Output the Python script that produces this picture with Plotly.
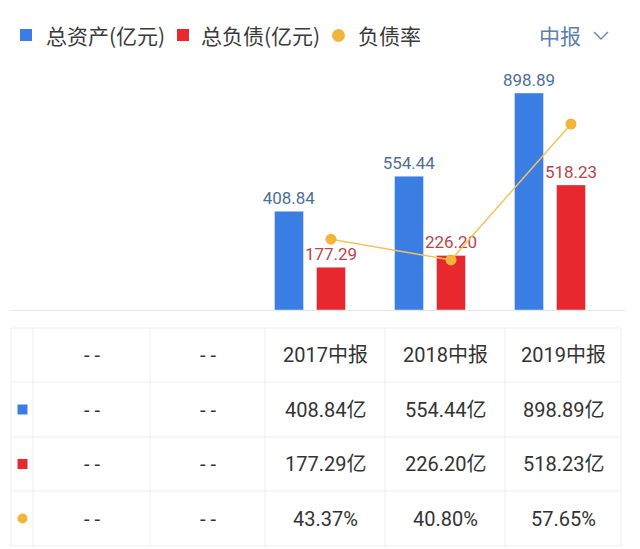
import plotly.graph_objects as go

categories = ["- -", "- -", "2017中报", "2018中报", "2019中报"]
total_assets = [None, None, 408.84, 554.44, 898.89]
total_liab = [None, None, 177.29, 226.20, 518.23]
debt_ratio = [None, None, 43.37, 40.80, 57.65]

asset_labels = ["- -", "- -", "408.84亿", "554.44亿", "898.89亿"]
liab_labels = ["- -", "- -", "177.29亿", "226.20亿", "518.23亿"]
ratio_labels = ["- -", "- -", "43.37%", "40.80%", "57.65%"]

BLUE = "#3b7ee3"
RED = "#e7282f"
YELLOW = "#f4b43a"
LINEY = "#f1c45c"
NUMFONT = "Roboto, Noto Sans CJK SC"
CJK = "Noto Sans CJK SC"

# page has an 8px body margin; the figure is sized to fill the rest
OFF = 8
W, H = 640 - OFF, 549 - OFF
def px(x):
    return (x - OFF) / W
def py(y):
    return 1 - (y - OFF) / H

xpos = list(range(len(categories)))
red_shift = 0.175
line_x = [p + red_shift for p in xpos]

fig = go.Figure()
fig.add_trace(go.Bar(
    x=xpos, y=total_assets, name="总资产(亿元)", marker_color=BLUE,
    text=[f"{v:.2f}" if v is not None else "" for v in total_assets],
    textposition="outside", cliponaxis=False, constraintext="none",
    textfont=dict(family=NUMFONT, size=17, color="#4f6f98"),
    hoverinfo="skip"))
fig.add_trace(go.Bar(
    x=xpos, y=total_liab, name="总负债(亿元)", marker_color=RED,
    text=[f"{v:.2f}" if v is not None else "" for v in total_liab],
    textposition="outside", cliponaxis=False, constraintext="none",
    textfont=dict(family=NUMFONT, size=17, color="#b8444e"),
    hoverinfo="skip"))
fig.add_trace(go.Scatter(
    x=line_x, y=debt_ratio, name="负债率", yaxis="y2", mode="lines+markers",
    line=dict(color=LINEY, width=1.5),
    marker=dict(color=YELLOW, size=11), cliponaxis=False, hoverinfo="skip"))

fig.update_layout(
    width=W, height=H, margin=dict(l=0, r=0, t=0, b=0),
    paper_bgcolor="white", plot_bgcolor="white",
    barmode="group", bargap=0.3, bargroupgap=0.31,
    showlegend=False,
    xaxis=dict(domain=[px(10), px(625)], range=[-0.5, -0.5 + 615 / 120],
               showticklabels=False, showgrid=False, zeroline=False,
               showline=True, linecolor="#e6e6e6", linewidth=1, ticks=""),
    yaxis=dict(domain=[py(310), py(60)], range=[0, 250 / 0.2414],
               visible=False, showgrid=False, zeroline=False),
    yaxis2=dict(overlaying="y", range=[34.6, 34.6 + 250 / 8.07],
                visible=False, showgrid=False, zeroline=False),
)

# ---- table below the chart ----
col_edges = [11, 33, 150, 265, 385, 505, 621]
row_edges = [328, 382, 437, 491, 546]
GRID = "#eeeeee"
for x in col_edges:
    fig.add_shape(type="line", xref="paper", yref="paper",
                  x0=px(x), x1=px(x), y0=py(row_edges[0]), y1=py(row_edges[-1]),
                  line=dict(color=GRID, width=1))
for y in row_edges:
    fig.add_shape(type="line", xref="paper", yref="paper",
                  x0=px(col_edges[0]), x1=px(col_edges[-1]), y0=py(y), y1=py(y),
                  line=dict(color=GRID, width=1))

table_rows = [categories, asset_labels, liab_labels, ratio_labels]
for r, row in enumerate(table_rows):
    yc = (row_edges[r] + row_edges[r + 1]) / 2
    for c, txt in enumerate(row):
        xc = (col_edges[c + 1] + col_edges[c + 2]) / 2
        fig.add_annotation(text=txt, xref="paper", yref="paper", x=px(xc), y=py(yc),
                           xanchor="center", yanchor="middle", showarrow=False,
                           font=dict(family=NUMFONT, size=20, color="#333333"))

# row icons
icon_specs = [(1, "rect", BLUE), (2, "rect", RED), (3, "circle", YELLOW)]
for r, kind, col in icon_specs:
    yc = (row_edges[r] + row_edges[r + 1]) / 2
    xc = (col_edges[0] + col_edges[1]) / 2 + 0.5
    fig.add_shape(type=kind, xref="paper", yref="paper",
                  x0=px(xc - 5), x1=px(xc + 5), y0=py(yc + 5), y1=py(yc - 5),
                  fillcolor=col, line_width=0)

# ---- legend (manual) ----
fig.add_shape(type="rect", xref="paper", yref="paper", x0=px(20), x1=px(32),
              y0=py(41), y1=py(29), fillcolor=BLUE, line_width=0)
fig.add_shape(type="rect", xref="paper", yref="paper", x0=px(177), x1=px(189),
              y0=py(41), y1=py(29), fillcolor=RED, line_width=0)
fig.add_shape(type="circle", xref="paper", yref="paper", x0=px(332), x1=px(345),
              y0=py(42), y1=py(29), fillcolor=YELLOW, line_width=0)
legend_items = [("总资产(亿元)", 44), ("总负债(亿元)", 199), ("负债率", 356)]
for txt, x0 in legend_items:
    fig.add_annotation(text=txt, xref="paper", yref="paper", x=px(x0), y=py(35),
                       xanchor="left", yanchor="middle", showarrow=False,
                       font=dict(family=CJK, size=21, color="#3a3a3a"))
fig.add_annotation(text="中报", xref="paper", yref="paper", x=px(560), y=py(35),
                   xanchor="center", yanchor="middle", showarrow=False,
                   font=dict(family=CJK, size=21, color="#5a80ad"))
fig.add_shape(type="path", xref="paper", yref="paper",
              path=f"M {px(594)},{py(32)} L {px(601)},{py(39)} L {px(608)},{py(32)}",
              line=dict(color="#6b8db5", width=1.5))

fig.write_html("out.html")
